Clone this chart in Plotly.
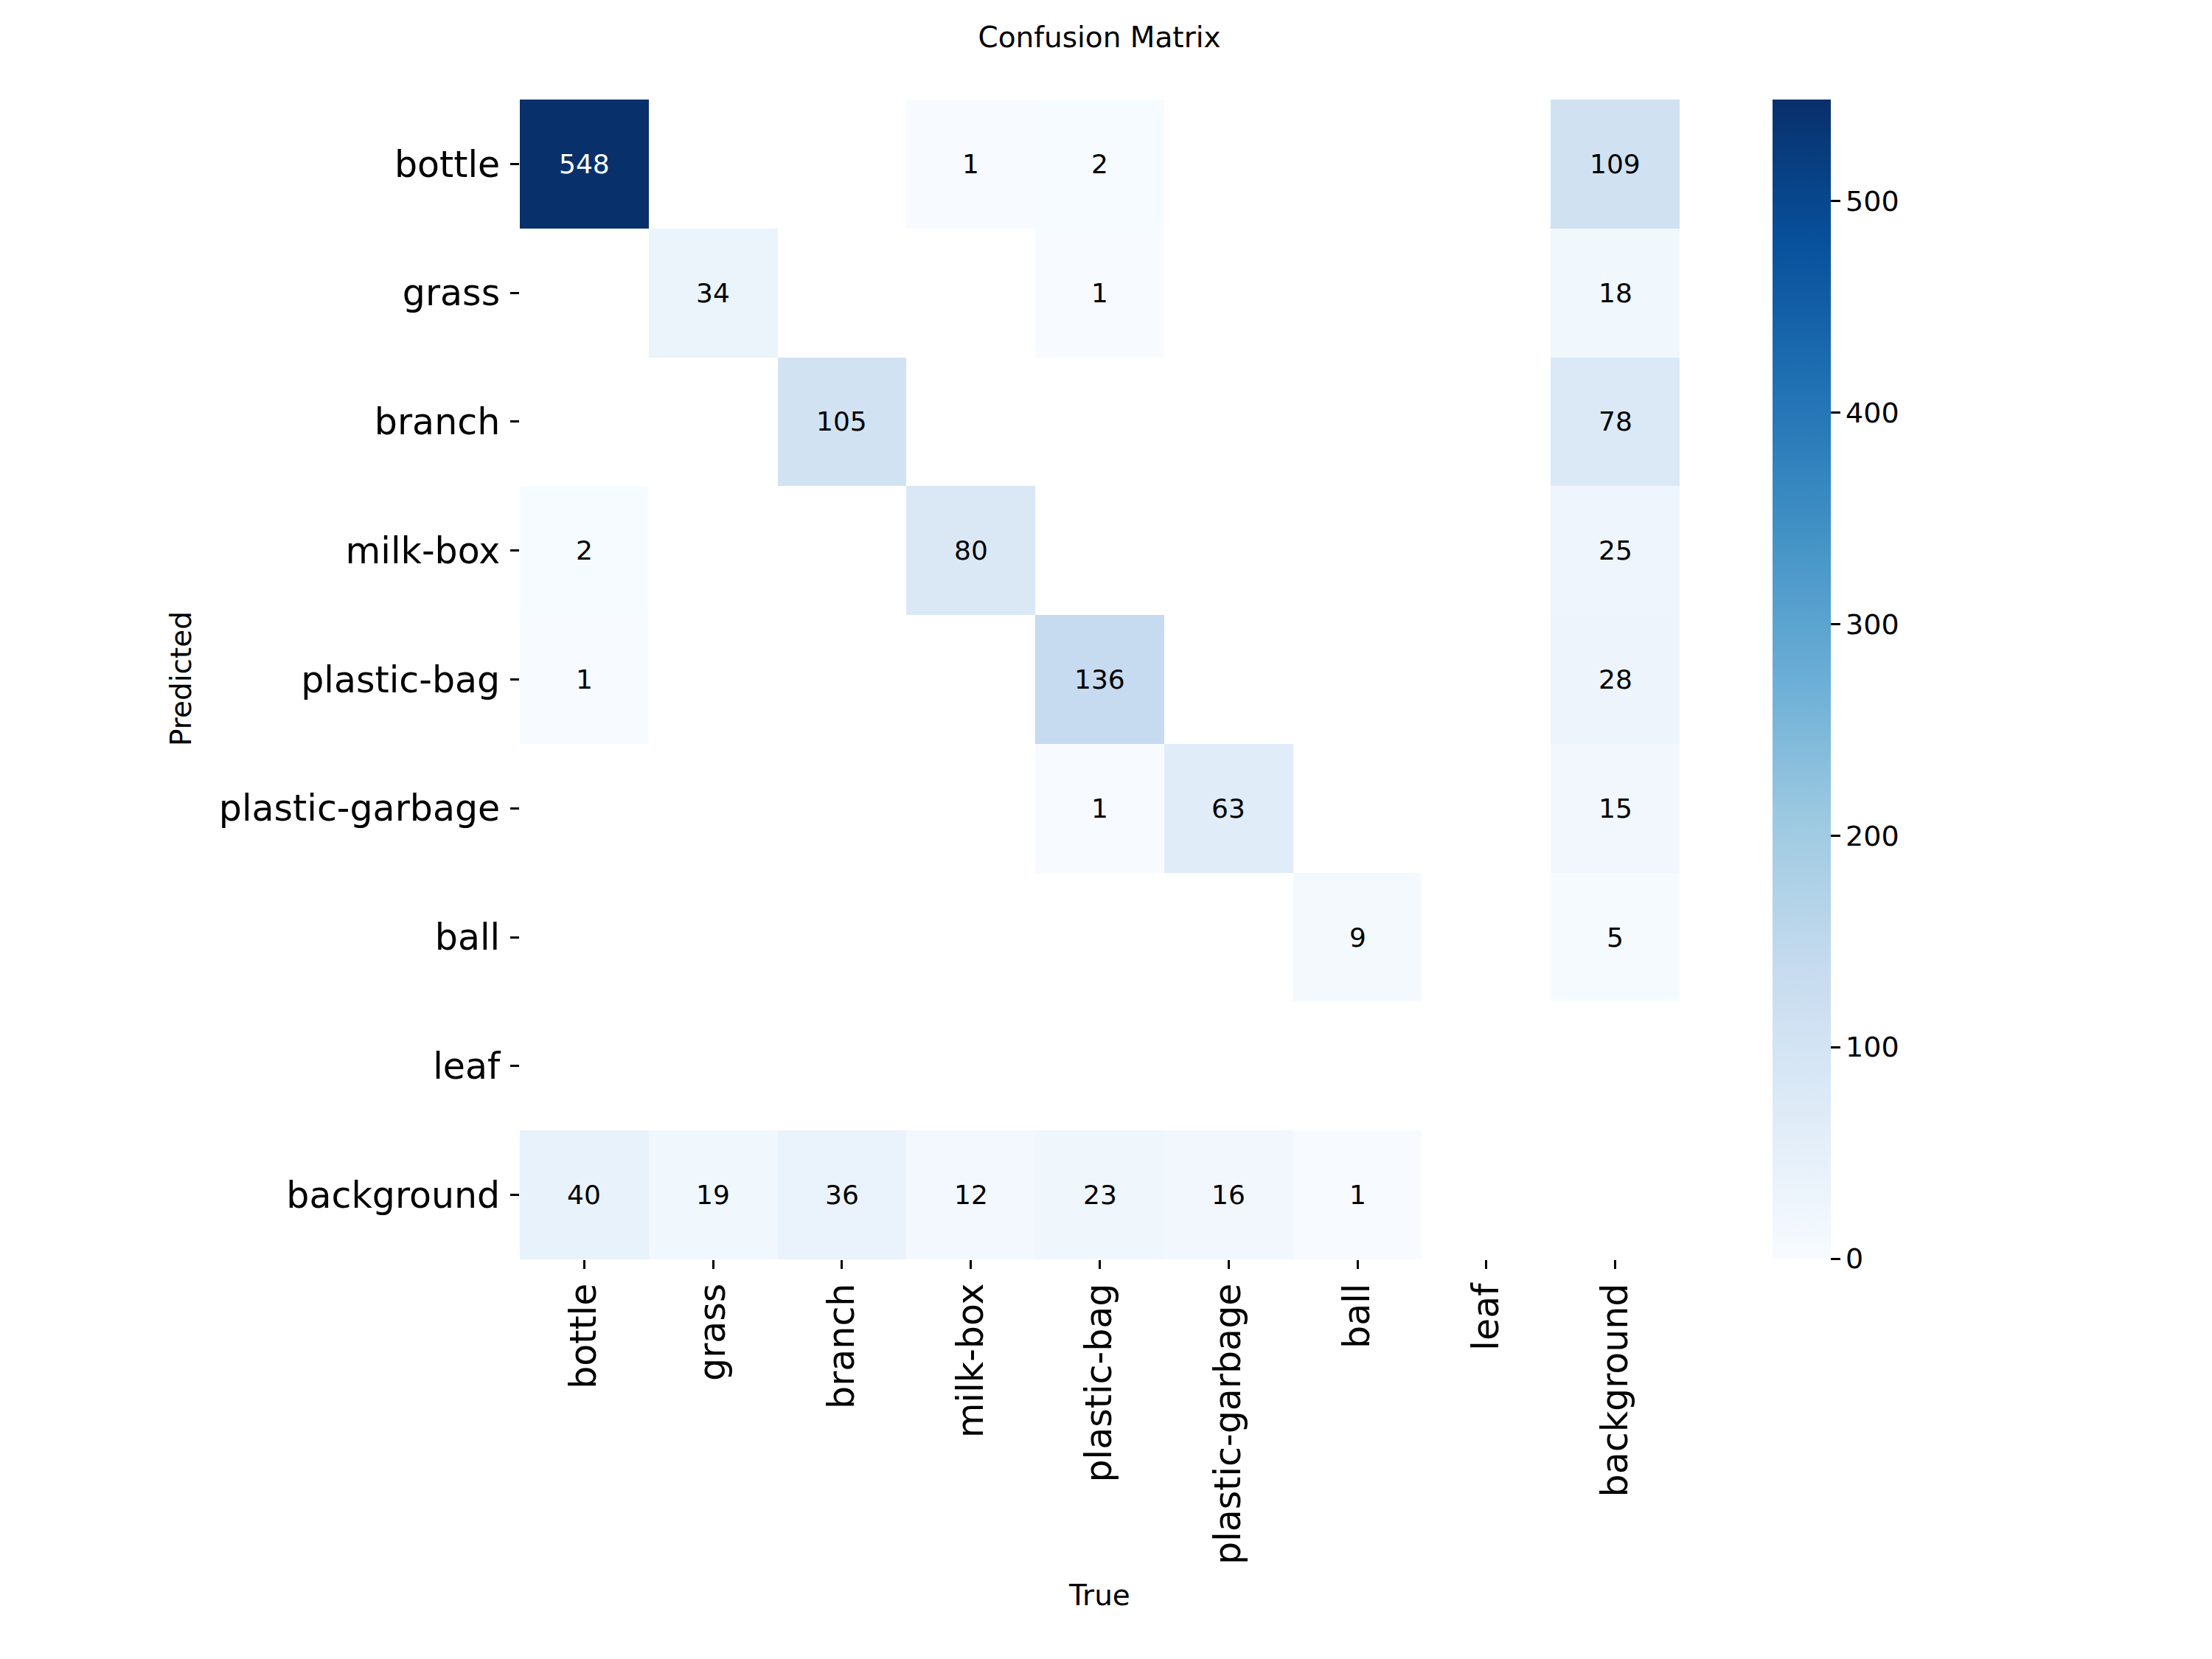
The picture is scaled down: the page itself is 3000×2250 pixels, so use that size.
import plotly.graph_objects as go
import plotly.colors as pc

# Матрица ошибок: строки — предсказанный класс, столбцы — истинный.
labels = ['bottle', 'grass', 'branch', 'milk-box', 'plastic-bag',
          'plastic-garbage', 'ball', 'leaf', 'background']

row_bottle = [548, 0, 0, 1, 2, 0, 0, 0, 109]
row_grass = [0, 34, 0, 0, 1, 0, 0, 0, 18]
row_branch = [0, 0, 105, 0, 0, 0, 0, 0, 78]
row_milkbox = [2, 0, 0, 80, 0, 0, 0, 0, 25]
row_plasticbag = [1, 0, 0, 0, 136, 0, 0, 0, 28]
row_plasticgarbage = [0, 0, 0, 0, 1, 63, 0, 0, 15]
row_ball = [0, 0, 0, 0, 0, 0, 9, 0, 5]
row_leaf = [0, 0, 0, 0, 0, 0, 0, 0, 0]
row_background = [40, 19, 36, 12, 23, 16, 1, 0, 0]

rows = [row_bottle, row_grass, row_branch, row_milkbox, row_plasticbag,
        row_plasticgarbage, row_ball, row_leaf, row_background]

cb_ticks = [0, 100, 200, 300, 400, 500]

vmax = max(max(r) for r in rows)

# нули не закрашиваем
z = [[v if v > 0 else None for v in r] for r in rows]

blues = pc.sequential.Blues
scale = [[i / (len(blues) - 1), c] for i, c in enumerate(blues)]

FONT = 'DejaVu Sans'
W, H = 3000, 2250
OFF = 8  # отступ body на странице


def fx(p):
    return (p - OFF) / W


def fy(p):
    return 1 - (p - OFF) / H


fig = go.Figure(go.Heatmap(
    z=z,
    x=labels,
    y=labels,
    colorscale=scale,
    zmin=0,
    zmax=vmax,
    hoverongaps=False,
    colorbar=dict(
        x=fx(2404), xanchor='left', xpad=0,
        y=fy(135), yanchor='top', ypad=0,
        len=(1707 - 135) / H, lenmode='fraction',
        thickness=79, thicknessmode='pixels',
        outlinewidth=0,
        tickvals=cb_ticks,
        ticks='outside', ticklen=13, tickwidth=3, tickcolor='black',
        tickprefix='\u2009',
        tickfont=dict(family=FONT, size=38, color='black'),
    ),
))

# подписи в ячейках
annotations = []
for i, r in enumerate(rows):
    for j, v in enumerate(r):
        if v == 0:
            continue
        annotations.append(dict(
            x=labels[j], y=labels[i], xref='x', yref='y',
            text=str(v), showarrow=False,
            font=dict(family=FONT, size=36,
                      color='white' if v > vmax / 2 else 'black'),
        ))

annotations.append(dict(
    text='True', x=fx(1491), y=fy(2163), xref='paper', yref='paper',
    xanchor='center', yanchor='middle',
    showarrow=False, font=dict(family=FONT, size=39, color='black'),
))
annotations.append(dict(
    text='Predicted', x=fx(245), y=fy(921), xref='paper', yref='paper',
    xanchor='center', yanchor='middle',
    textangle=-90, showarrow=False,
    font=dict(family=FONT, size=39, color='black'),
))

fig.update_layout(
    width=W,
    height=H,
    margin=dict(l=0, r=0, t=0, b=0),
    paper_bgcolor='white',
    plot_bgcolor='white',
    font=dict(family=FONT, color='black'),
    title=dict(text='Confusion Matrix', x=fx(1491), xanchor='center',
               y=fy(50), yanchor='middle',
               font=dict(family=FONT, size=39, color='black')),
    xaxis=dict(
        domain=[fx(705), fx(2278)],
        type='category',
        showgrid=False, zeroline=False, showline=False,
        ticks='outside', ticklen=12, tickwidth=3, tickcolor='black',
        tickangle=-90,
        tickfont=dict(family=FONT, size=49, color='black'),
        ticklabelstandoff=0,
        automargin=False,
    ),
    yaxis=dict(
        domain=[fy(1708), fy(135)],
        type='category',
        autorange='reversed',
        showgrid=False, zeroline=False, showline=False,
        ticks='outside', ticklen=12, tickwidth=3, tickcolor='black',
        tickfont=dict(family=FONT, size=49, color='black'),
        ticklabelstandoff=4,
        automargin=False,
    ),
    annotations=annotations,
)

fig.write_html("out.html")
